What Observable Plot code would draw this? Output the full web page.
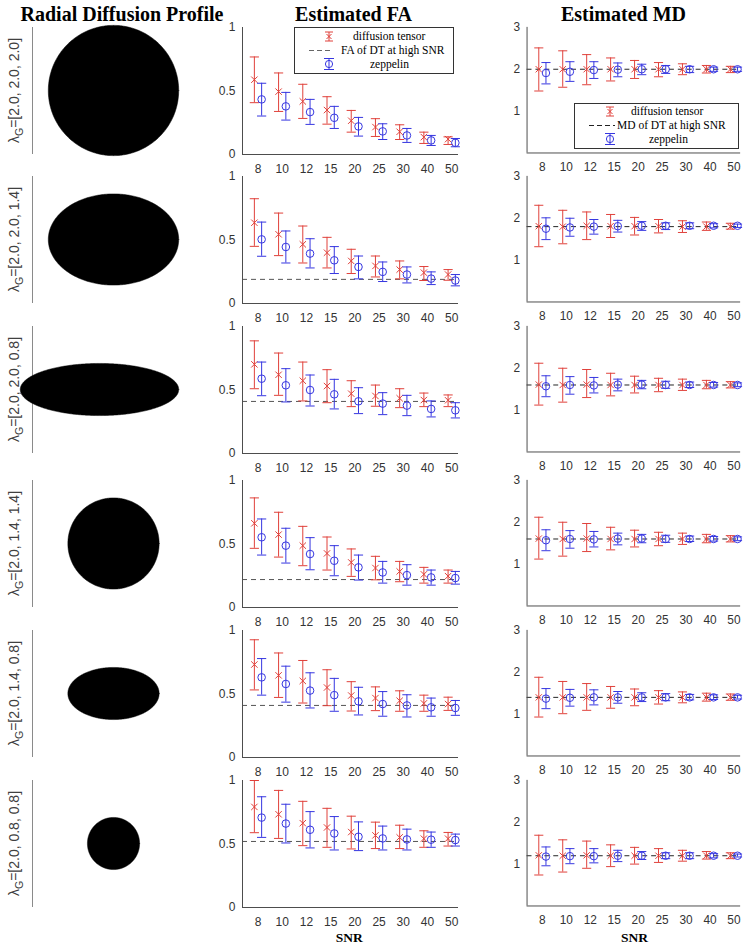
<!DOCTYPE html>
<html><head><meta charset="utf-8">
<script src="https://cdn.jsdelivr.net/npm/d3@7"></script>
<script src="https://cdn.jsdelivr.net/npm/@observablehq/plot@0.6"></script>
<style>
body{margin:0;background:#fff;}
#root{position:relative;width:754px;height:951px;overflow:hidden;background:#fff;}
.panel{position:absolute;}
</style></head><body><div id="root"></div><script>
// ---------------- data ----------------
const snrLabels = ["8","10","12","15","20","25","30","40","50"];
const lambdaLabels = ["[2.0, 2.0, 2.0]","[2.0, 2.0, 1.4]","[2.0, 2.0, 0.8]","[2.0, 1.4, 1.4]","[2.0, 1.4, 0.8]","[2.0, 0.8, 0.8]"];
// radial profile ellipses: horizontal / vertical semi-axes and horizontal centre
const profileAxisH = [2.0, 2.0, 2.43, 1.4, 1.4, 0.8];
const profileAxisV = [2.0, 1.4, 0.8, 1.4, 0.8, 0.8];
const profileCenterH = [0, 0, -0.43, 0, 0, 0];
const faReference = [0.0, 0.19, 0.41, 0.22, 0.41, 0.52];
const mdReference = [2.0, 1.8, 1.6, 1.6, 1.4, 1.2];
const faTicks = [0, 0.5, 1];
const mdTicks = [1, 2, 3];

const faDtMean = [
 [0.589,0.495,0.418,0.350,0.266,0.216,0.179,0.137,0.121],
 [0.636,0.545,0.466,0.400,0.335,0.296,0.267,0.243,0.228],
 [0.702,0.620,0.573,0.531,0.471,0.453,0.435,0.421,0.419],
 [0.663,0.574,0.487,0.426,0.355,0.311,0.284,0.261,0.247],
 [0.732,0.647,0.603,0.551,0.488,0.468,0.447,0.426,0.421],
 [0.792,0.734,0.664,0.630,0.594,0.568,0.552,0.542,0.542]];
const faDtHigh = [
 [0.768,0.642,0.553,0.455,0.347,0.282,0.234,0.176,0.139],
 [0.825,0.712,0.610,0.521,0.427,0.374,0.335,0.291,0.267],
 [0.887,0.791,0.720,0.660,0.573,0.539,0.510,0.476,0.461],
 [0.863,0.750,0.639,0.555,0.461,0.403,0.363,0.316,0.295],
 [0.927,0.823,0.764,0.691,0.597,0.556,0.525,0.491,0.475],
 [1.000,0.922,0.836,0.781,0.719,0.672,0.648,0.604,0.591]];
const faDtLow = [
 [0.408,0.339,0.284,0.239,0.176,0.142,0.118,0.087,0.079],
 [0.450,0.377,0.319,0.280,0.236,0.209,0.194,0.181,0.183],
 [0.510,0.458,0.414,0.400,0.369,0.372,0.361,0.369,0.369],
 [0.466,0.397,0.329,0.295,0.245,0.218,0.203,0.192,0.192],
 [0.532,0.473,0.429,0.408,0.366,0.369,0.364,0.364,0.371],
 [0.589,0.544,0.487,0.474,0.461,0.464,0.464,0.474,0.484]];
const faZpMean = [
 [0.434,0.379,0.334,0.289,0.221,0.182,0.150,0.111,0.092],
 [0.505,0.445,0.393,0.340,0.288,0.249,0.228,0.196,0.181],
 [0.589,0.537,0.500,0.466,0.411,0.393,0.377,0.351,0.340],
 [0.553,0.487,0.421,0.368,0.316,0.276,0.255,0.237,0.232],
 [0.631,0.579,0.527,0.491,0.442,0.421,0.410,0.395,0.390],
 [0.708,0.661,0.612,0.583,0.557,0.544,0.536,0.534,0.531]];
const faZpHigh = [
 [0.561,0.489,0.434,0.379,0.292,0.242,0.205,0.150,0.126],
 [0.641,0.571,0.510,0.448,0.374,0.327,0.288,0.249,0.228],
 [0.720,0.668,0.618,0.584,0.518,0.479,0.458,0.414,0.400],
 [0.697,0.624,0.550,0.487,0.413,0.363,0.337,0.295,0.284],
 [0.779,0.719,0.667,0.623,0.553,0.519,0.494,0.468,0.449],
 [0.872,0.813,0.755,0.716,0.674,0.641,0.617,0.594,0.578]];
const faZpLow = [
 [0.303,0.271,0.237,0.205,0.145,0.118,0.095,0.071,0.061],
 [0.372,0.319,0.280,0.236,0.194,0.173,0.162,0.149,0.139],
 [0.455,0.406,0.374,0.351,0.314,0.306,0.298,0.288,0.280],
 [0.413,0.350,0.297,0.250,0.216,0.192,0.176,0.176,0.184],
 [0.491,0.436,0.390,0.364,0.335,0.325,0.319,0.325,0.332],
 [0.552,0.508,0.469,0.453,0.448,0.453,0.453,0.474,0.484]];

const mdDtMean = [
 [2.00,2.00,2.00,2.00,2.00,2.00,2.00,2.00,2.00],
 [1.81,1.80,1.82,1.81,1.81,1.81,1.80,1.80,1.80],
 [1.61,1.60,1.61,1.60,1.60,1.60,1.60,1.60,1.60],
 [1.61,1.60,1.61,1.60,1.60,1.60,1.60,1.60,1.60],
 [1.40,1.40,1.40,1.40,1.40,1.40,1.40,1.40,1.40],
 [1.21,1.20,1.21,1.20,1.20,1.20,1.20,1.20,1.20]];
const mdDtHigh = [
 [2.51,2.44,2.35,2.27,2.21,2.16,2.13,2.09,2.07],
 [2.31,2.19,2.15,2.09,2.02,1.97,1.94,1.91,1.88],
 [2.12,2.00,1.97,1.88,1.81,1.76,1.74,1.71,1.68],
 [2.12,2.00,1.97,1.88,1.81,1.76,1.74,1.71,1.68],
 [1.88,1.78,1.73,1.66,1.60,1.56,1.53,1.50,1.48],
 [1.69,1.58,1.55,1.46,1.40,1.37,1.33,1.30,1.27]];
const mdDtLow = [
 [1.48,1.57,1.63,1.72,1.78,1.82,1.87,1.91,1.92],
 [1.32,1.39,1.49,1.54,1.60,1.65,1.66,1.71,1.74],
 [1.12,1.19,1.30,1.34,1.41,1.44,1.47,1.51,1.53],
 [1.12,1.19,1.30,1.34,1.41,1.44,1.47,1.51,1.53],
 [0.93,1.01,1.09,1.14,1.20,1.24,1.27,1.31,1.33],
 [0.74,0.81,0.90,0.94,1.00,1.04,1.07,1.12,1.13]];
const mdZpMean = [
 [1.91,1.94,1.98,1.99,2.00,2.00,2.00,2.00,2.00],
 [1.75,1.78,1.80,1.81,1.82,1.82,1.82,1.82,1.82],
 [1.57,1.60,1.59,1.61,1.61,1.60,1.60,1.60,1.60],
 [1.57,1.60,1.59,1.61,1.61,1.60,1.60,1.60,1.60],
 [1.37,1.39,1.40,1.40,1.40,1.40,1.40,1.40,1.40],
 [1.18,1.19,1.19,1.20,1.20,1.20,1.20,1.20,1.20]];
const mdZpHigh = [
 [2.16,2.18,2.18,2.15,2.12,2.09,2.07,2.05,2.05],
 [2.01,2.00,1.97,1.95,1.92,1.89,1.89,1.87,1.86],
 [1.82,1.80,1.78,1.74,1.71,1.69,1.67,1.66,1.65],
 [1.82,1.80,1.78,1.74,1.71,1.69,1.67,1.66,1.65],
 [1.61,1.59,1.58,1.54,1.51,1.49,1.47,1.46,1.45],
 [1.41,1.37,1.37,1.33,1.30,1.27,1.27,1.25,1.24]];
const mdZpLow = [
 [1.65,1.71,1.78,1.82,1.87,1.90,1.92,1.95,1.95],
 [1.49,1.57,1.62,1.67,1.71,1.73,1.75,1.77,1.78],
 [1.32,1.38,1.41,1.46,1.51,1.52,1.54,1.55,1.56],
 [1.32,1.38,1.41,1.46,1.51,1.52,1.54,1.55,1.56],
 [1.13,1.19,1.22,1.26,1.30,1.32,1.34,1.35,1.36],
 [0.96,1.01,1.03,1.06,1.11,1.13,1.13,1.15,1.17]];

// ---------------- layout ----------------
const RED = "#e0403a", BLUE = "#3636e0", AXIS = "#4d4d4d";
const rowTops = [27, 176, 326, 480, 630, 780];
const PH = 127, PW = 216;
const ML = 40, MR = 14, MT = 10, MB = 26;
const X_DOMAIN = [0.36, 9.28];
const OFF = 0.15, CAP = 0.19;
const SANS = "'Liberation Sans', Arial, Helvetica, sans-serif";
const SERIF = "'Liberation Serif', 'Times New Roman', serif";
const root = document.getElementById("root");

function place(node, left, top) {
  const d = document.createElement("div");
  d.className = "panel";
  d.style.left = left + "px"; d.style.top = top + "px";
  d.appendChild(node); root.appendChild(d);
}

function series(data, off, color, sym, r) {
  return [
    Plot.ruleX(data, {x: d => d.pos + off, y1: "lo", y2: "hi", stroke: color, strokeWidth: 1}),
    Plot.link(data, {x1: d => d.pos + off - CAP, x2: d => d.pos + off + CAP, y1: "hi", y2: "hi", stroke: color, strokeWidth: 1}),
    Plot.link(data, {x1: d => d.pos + off - CAP, x2: d => d.pos + off + CAP, y1: "lo", y2: "lo", stroke: color, strokeWidth: 1}),
    Plot.dot(data, {x: d => d.pos + off, y: "m", symbol: sym, r, stroke: color, fill: "none", strokeWidth: 1})
  ];
}

function errorPanel(r, yDomain, yTicks, ref, dash, dtM, dtL, dtH, zpM, zpL, zpH) {
  const dt = snrLabels.map((s, i) => ({pos: i + 1, m: dtM[r][i], lo: dtL[r][i], hi: dtH[r][i]}));
  const zp = snrLabels.map((s, i) => ({pos: i + 1, m: zpM[r][i], lo: zpL[r][i], hi: zpH[r][i]}));
  return Plot.plot({
    width: PW + ML + MR, height: PH + MT + MB,
    marginLeft: ML, marginRight: MR, marginTop: MT, marginBottom: MB,
    style: {background: "transparent", fontFamily: SANS, fontSize: "12px", color: "#333", overflow: "visible"},
    x: {domain: X_DOMAIN, ticks: snrLabels.map((s, i) => i + 1), tickFormat: p => snrLabels[p - 1], tickSize: 0, tickPadding: 10, label: null},
    y: {domain: yDomain, ticks: yTicks, tickFormat: d => String(d), tickSize: 0, tickPadding: 7, label: null},
    marks: [
      Plot.ruleY([ref], {stroke: dash, strokeDasharray: "5,4", strokeWidth: 1}),
      ...series(dt, -OFF, RED, "times", 3),
      ...series(zp, OFF, BLUE, "circle", 3.8),
      Plot.ruleX([X_DOMAIN[0]], {stroke: AXIS}),
      Plot.ruleY([yDomain[0]], {stroke: AXIS})
    ]
  });
}

function profilePanel(r) {
  const a = profileAxisH[r], b = profileAxisV[r], c = profileCenterH[r];
  const pts = d3.range(0, 181).map(k => {
    const t = k * Math.PI / 180;
    return {x: c + a * Math.cos(t), y1: -b * Math.sin(t), y2: b * Math.sin(t)};
  });
  return Plot.plot({
    width: 163 + 20, height: PH + 20, margin: 10,
    style: {background: "transparent", overflow: "visible"},
    x: {domain: [-2.5, 2.5], axis: null},
    y: {domain: [-1.95, 1.95], axis: null},
    marks: [
      Plot.ruleX([-2.5], {stroke: "#8a8a8a", strokeWidth: 1}),
      Plot.areaY(pts, {x: "x", y1: "y1", y2: "y2", fill: "black", stroke: "black", strokeWidth: 0.5, clip: false})
    ]
  });
}

for (let r = 0; r < 6; r++) {
  place(profilePanel(r), 22, rowTops[r] - 10);
  place(errorPanel(r, [0, 1], faTicks, faReference[r], "#555", faDtMean, faDtLow, faDtHigh, faZpMean, faZpLow, faZpHigh), 242 - ML, rowTops[r] - MT);
  place(errorPanel(r, [0, 3], mdTicks, mdReference[r], "#222", mdDtMean, mdDtLow, mdDtHigh, mdZpMean, mdZpLow, mdZpHigh), 527 - ML, rowTops[r] - MT);
}

// ---------------- overlay text & legends ----------------
const ov = d3.select(root).append("svg")
  .attr("width", 754).attr("height", 951)
  .style("position", "absolute").style("left", "0px").style("top", "0px");

const titles = [["Radial Diffusion Profile", 122], ["Estimated FA", 353.5], ["Estimated MD", 623.5]];
titles.forEach(([t, x]) => ov.append("text").attr("x", x).attr("y", 21).attr("text-anchor", "middle")
  .attr("font-family", SERIF).attr("font-weight", "bold").attr("font-size", 20).attr("fill", "#000").text(t));

[349.3, 634.5].forEach(x => ov.append("text").attr("x", x).attr("y", 942).attr("text-anchor", "middle")
  .attr("font-family", SERIF).attr("font-weight", "bold").attr("font-size", 13.5).attr("fill", "#000").text("SNR"));

lambdaLabels.forEach((lab, r) => {
  const cy = rowTops[r] + PH / 2;
  const t = ov.append("text").attr("transform", `translate(19,${cy}) rotate(-90)`)
    .attr("text-anchor", "middle").attr("font-family", SANS).attr("font-size", 14).attr("fill", "#404040");
  t.append("tspan").text("λ");
  t.append("tspan").attr("dy", 4).attr("font-size", 10.5).text("G");
  t.append("tspan").attr("dy", -4).text("=" + lab);
});

function errIcon(g, x, cy, color, half, capw, marker) {
  g.append("line").attr("x1", x).attr("x2", x).attr("y1", cy - half).attr("y2", cy + half).attr("stroke", color);
  [cy - half, cy + half].forEach(y => g.append("line").attr("x1", x - capw / 2).attr("x2", x + capw / 2).attr("y1", y).attr("y2", y).attr("stroke", color));
  if (marker === "x") {
    g.append("path").attr("d", `M${x - 2.5},${cy - 2.5}L${x + 2.5},${cy + 2.5}M${x - 2.5},${cy + 2.5}L${x + 2.5},${cy - 2.5}`).attr("stroke", color).attr("fill", "none");
  } else {
    g.append("circle").attr("cx", x).attr("cy", cy).attr("r", 3.6).attr("stroke", color).attr("fill", "none");
  }
}

function legend(x, y, w, h, refText, dashColor, L) {
  const g = ov.append("g").attr("transform", `translate(${x},${y})`);
  g.append("rect").attr("x", 0.5).attr("y", 0.5).attr("width", w).attr("height", h).attr("fill", "#fff").attr("stroke", "#333");
  const txt = (tx, ty, s) => g.append("text").attr("x", tx).attr("y", ty).attr("font-family", SERIF).attr("font-size", 11.5).attr("fill", "#000").text(s);
  errIcon(g, L.ix, L.y1, RED, 4.5, 8, "x");
  txt(L.t1, L.y1 + 3.5, "diffusion tensor");
  g.append("line").attr("x1", L.d0).attr("x2", L.d1).attr("y1", L.y2).attr("y2", L.y2).attr("stroke", dashColor).attr("stroke-dasharray", "5,3");
  txt(L.t2, L.y2 + 3.5, refText);
  errIcon(g, L.ix, L.y3, BLUE, 5.5, 10, "o");
  txt(L.t3, L.y3 + 3.5, "zeppelin");
}
legend(294, 27, 159, 46, "FA of DT at high SNR", "#666", {ix: 35, y1: 9.5, t1: 59, d0: 15, d1: 39, y2: 23.5, t2: 47, y3: 37, t3: 76});
legend(574, 103, 164, 45, "MD of DT at high SNR", "#222", {ix: 36, y1: 8.5, t1: 57, d0: 15, d1: 41, y2: 22.5, t2: 43, y3: 36, t3: 75});
</script></body></html>
